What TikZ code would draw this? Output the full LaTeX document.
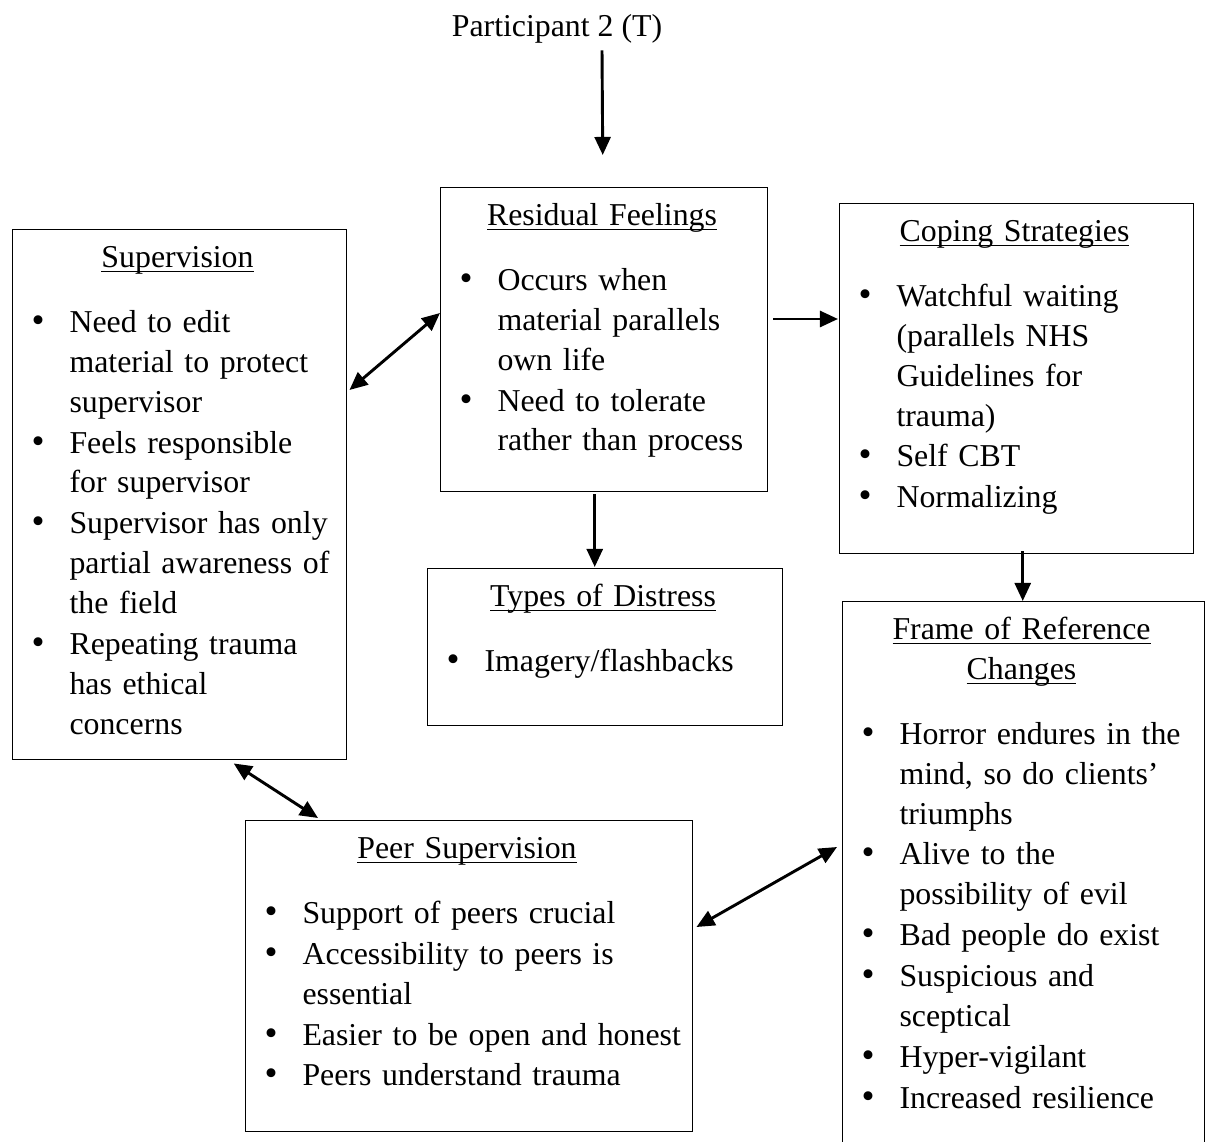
\documentclass[tikz,border=0pt]{standalone}
\usepackage{fontspec}
\setmainfont{Liberation Serif}
\usetikzlibrary{arrows.meta,calc}
\newlength{\pxu}
\setlength{\pxu}{0.377pt}
\newcommand{\panelfont}{\fontsize{12}{15.03}\selectfont\setlength{\parskip}{1\pxu}\spaceskip 3pt\relax\xspaceskip 3pt\relax\parfillskip 0pt plus 1fil\relax}
\newcommand{\headline}[1]{\setbox0=\hbox{#1}\rlap{\rule[-1.9pt]{\wd0}{0.6pt}}\box0}
\newcommand{\boxhead}[1]{{\noindent\centering\strut#1\par}\vspace{9.1pt}}
\newcommand{\pitem}{\par\hangindent=57\pxu\hangafter=1\noindent\makebox[57\pxu][l]{\hspace{19\pxu}{\fontsize{14}{15.03}\selectfont\textbullet}}}
\newcommand{\nl}{\hfil\break}
\tikzset{
  panel/.style={draw=black, line width=0.55pt, inner sep=0pt, anchor=north west},
  paneltext/.style={anchor=north west, inner sep=0pt, text width=#1\pxu, font=\panelfont},
  arrow/.style={-{Triangle[length=6.8pt,width=6pt]}, line width=1.1pt},
  biarrow/.style={{Triangle[length=6.8pt,width=6pt]}-{Triangle[length=6.8pt,width=6pt]}, line width=1.1pt}
}

\begin{document}
\begin{tikzpicture}[x=1\pxu, y=-1\pxu]
\clip (0,0) rectangle (1208,1142);
% boxes
\node[panel, minimum width=334\pxu, minimum height=530\pxu] (sup) at (12,229) {};
\node[panel, minimum width=327\pxu, minimum height=304\pxu] (res) at (440,187) {};
\node[panel, minimum width=354\pxu, minimum height=350\pxu] (cop) at (839,203) {};
\node[panel, minimum width=355\pxu, minimum height=157\pxu] (typ) at (427,568) {};
\node[panel, minimum width=362\pxu, minimum height=560\pxu] (frm) at (842,601) {};
\node[panel, minimum width=447\pxu, minimum height=311\pxu] (peer) at (245,820) {};
% texts
\node[anchor=base, inner sep=0pt, font=\fontsize{12}{15.03}\selectfont] (part) at (557,37) {Participant 2 (T)};
\node[paneltext=330] (supC) at ($(sup.north west)+(0,10)$) {%
\boxhead{\headline{Supervision}}%
\pitem Need to edit\nl material to protect\nl supervisor
\pitem Feels responsible\nl for supervisor
\pitem Supervisor has only\nl partial awareness of\nl the field
\pitem Repeating trauma\nl has ethical\nl concerns\par};
\node[paneltext=323] (resC) at ($(res.north west)+(0,10)$) {%
\boxhead{\headline{Residual Feelings}}%
\pitem Occurs when\nl material parallels\nl own life
\pitem Need to tolerate\nl rather than process\par};
\node[paneltext=350] (copC) at ($(cop.north west)+(0,10)$) {%
\boxhead{\headline{Coping Strategies}}%
\pitem Watchful waiting\nl (parallels NHS\nl Guidelines for\nl trauma)
\pitem Self CBT
\pitem Normalizing\par};
\node[paneltext=351] (typC) at ($(typ.north west)+(0,10)$) {%
\boxhead{\headline{Types of Distress}}%
\pitem Imagery/flashbacks\par};
\node[paneltext=358] (frmC) at ($(frm.north west)+(0,10)$) {%
\boxhead{\headline{Frame of Reference}\break\headline{Changes}}%
\pitem Horror endures in the\nl mind, so do clients’\nl triumphs
\pitem Alive to the\nl possibility of evil
\pitem Bad people do exist
\pitem Suspicious and\nl sceptical
\pitem Hyper-vigilant
\pitem Increased resilience\par};
\node[paneltext=443] (peerC) at ($(peer.north west)+(0,10)$) {%
\boxhead{\headline{Peer Supervision}}%
\pitem Support of peers crucial
\pitem Accessibility to peers is\nl essential
\pitem Easier to be open and honest
\pitem Peers understand trauma\par};
% connectors
\draw[arrow] ($(part.south)+(45,6)$) -- ($(res.north)+(-1.5,-32)$);
\draw[biarrow] ($(sup.north east)+(2,161)$) -- ($(res.north west)+(0,126)$);
\draw[arrow] ($(res.north east)+(5,132)$) -- ($(cop.north west)+(-1,116)$);
\draw[arrow] ($(res.south)+(-9.5,2)$) -- ($(typ.north)+(-10.5,-1)$);
\draw[arrow] ($(cop.south)+(6,-3)$) -- ($(frm.north)+(-1,0)$);
\draw[biarrow] ($(sup.south)+(54,3)$) -- ($(peer.north west)+(73,-2)$);
\draw[biarrow] ($(peer.north east)+(3,107)$) -- ($(frm.north west)+(-5,246)$);
\end{tikzpicture}
\end{document}
